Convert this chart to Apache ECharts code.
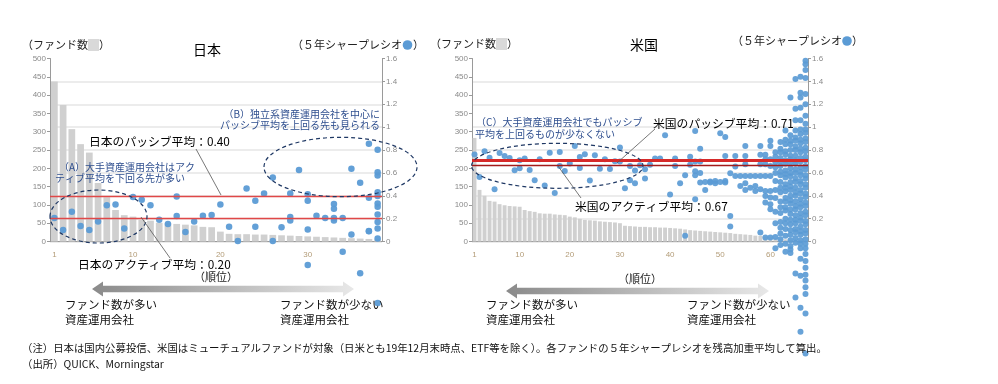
<!DOCTYPE html>
<html><head><meta charset="utf-8">
<script src="https://cdn.jsdelivr.net/npm/echarts@6/dist/echarts.min.js"></script>
<style>html,body{margin:0;padding:0;background:#fff}#c{width:998px;height:384px}</style>
</head><body><div id="c"></div>
<script>
// ---- data ----
const japanCounts = [437,373,307,266,243,160,121,86,72,68,59,57,51,50,48,46,44,40,39,27,21,20,20,19,19,18,17,16,15,14,13,12,11,10,9,8,7,6];
const japanSharpeByRank = [
 [0.205],[0.10],[0.26],[0.136],[0.10],[0.174],[0.316],[0.324],[0.113],[0.39],
 [0.365],[0.316],[0.19],[0.153],[0.394,0.223],[0.083],[0.174],[0.226],[0.231],[0.324],
 [0.13],[0.005],[0.463],[0.356,0.13],[0.42],[0.56,0.005],[0.124],[0.42,0.214,0.183],[0.626],[0.414,0.356,0.104,-0.206],
 [0.226],[0.205],[0.327,0.287,0.205,0.183],[0.205,-0.09],[0.635,0.061],[0.513,-0.278],[0.855,0.383,0.092,0.09],
 [0.803,0.605,0.577,0.43,0.397,0.333,0.304,0.235,0.17,0.113,0.026,-0.537]
];
const japanPassiveAvg = 0.40;
const japanActiveAvg = 0.20;
const japanTickRanks = [1,10,20,30];

const usCounts = [283,141,125,111,109,102,99,97,96,95,86,83,81,77,76,76,74,73,72,68,66,62,59,58,57,55,54,53,52,50,43,42,41,40,40,39,39,38,38,37,36,35,33,31,30,29,28,27,26,25,24,23,21,20,19,18,16,15,13,11,9,8,6,5,4,3,2];
const usSharpeByRank = [
 [0.76],[0.564],[0.79],[0.733],[0.457],[0.774],[0.748],[0.73],[0.623],[0.71,0.64],
 [0.725],[0.625],[0.535],[0.719],[0.49],[0.777],[0.425],[0.783,0.66],[0.617],[0.681],
 [0.835],[0.739,0.643],[0.762],[0.533],[0.754],[0.637],[0.719],[0.634],[0.701],[0.821,0.70],
 [0.465],[0.66,0.535],[0.62,0.51],[0.666],[0.631,0.55],[0.67],[0.725],[0.725],[0.93],[0.41],
 [0.725,0.66],[0.51],[0.58,0.05],[0.74,0.67],[0.966,0.70,0.615,0.58,0.37],[0.81,0.70,0.60,0.515],[0.52,0.45],[0.524,0.515],[0.509,0.53],[0.946,0.52],
 [0.914,0.748,0.53,0.515],[0.597,0.224,0.131],[0.748,0.655,0.573],[0.573,0.486],[0.835,0.748,0.675,0.573,0.509,0.451],[0.573,0.471],[0.573,0.486,0.442],[0.835,0.759,0.675,0.573,0.457,0.079],[0.759,0.719,0.675,0.573,0.442,0.398,0.34,0.035],[0.88,0.835,0.719,0.66,0.573,0.442,0.384,0.326,0.282,0.035],
 [0.78,0.74,0.69,0.65,0.6,0.53,0.45,0.38,0.26,0.16,0.04,-0.06],
 [0.87,0.81,0.78,0.73,0.7,0.66,0.61,0.58,0.52,0.47,0.43,0.35,0.3,0.25,0.17,0.12,0.07,0.02,-0.03],
 [0.97,0.89,0.85,0.79,0.76,0.71,0.68,0.62,0.59,0.56,0.5,0.47,0.44,0.38,0.35,0.3,0.27,0.2,0.16,0.11,0.05,-0.02,-0.09],
 [1.26,0.93,0.88,0.85,0.8,0.75,0.72,0.69,0.64,0.6,0.57,0.52,0.48,0.45,0.4,0.36,0.33,0.28,0.24,0.19,0.15,0.1,0.06,0.01,-0.04,-0.07,-0.1],
 [1.42,1.16,1.06,0.97,0.91,0.88,0.83,0.8,0.75,0.71,0.68,0.63,0.6,0.55,0.52,0.47,0.43,0.4,0.35,0.31,0.28,0.23,0.19,0.16,0.11,0.08,0.03,-0.01,-0.28,-0.49],
 [1.44,1.3,1.26,1.17,1.06,0.98,0.94,0.89,0.86,0.81,0.78,0.73,0.7,0.65,0.61,0.58,0.53,0.5,0.45,0.42,0.37,0.33,0.3,0.25,0.21,0.18,0.13,0.09,0.06,0.01,-0.02,-0.06,-0.15,-0.3,-0.58,-0.79],
 [1.58,1.55,1.5,1.43,1.29,1.2,1.1,1.03,0.98,0.95,0.9,0.87,0.82,0.79,0.74,0.71,0.66,0.63,0.58,0.55,0.5,0.47,0.42,0.39,0.34,0.31,0.26,0.23,0.18,0.15,0.1,0.07,0.02,-0.02,-0.06,-0.11,-0.17,-0.23,-0.29,-0.34,-0.4,-0.46,-0.63,-0.98]
];
const usPassiveAvg = 0.71;
const usActiveAvg = 0.67;
const usTickRanks = [1,10,20,30,40,50,60];

// ---- build ----
const JP = '"Noto Sans CJK JP", sans-serif';
const toDots = arr => arr.flatMap((vals, i) => vals.map(v => [i, v]));
const cats = arr => arr.map((_, i) => String(i + 1));

function xAxisFor(grid, counts, ticks) {
  return {
    type: 'category', gridIndex: grid, data: cats(counts),
    axisLine: { lineStyle: { color: '#9a9a9a', width: 1 } },
    axisTick: { show: false },
    axisLabel: { interval: (i) => ticks.includes(i + 1), color: '#b39c78', fontSize: 8, margin: 9, fontFamily: 'Liberation Sans' }
  };
}
function countAxis(grid) {
  return {
    type: 'value', gridIndex: grid, position: 'left', min: 0, max: 500, interval: 50,
    axisLine: { show: true, lineStyle: { color: '#9a9a9a' } },
    axisTick: { show: true, length: 3, lineStyle: { color: '#9a9a9a' } },
    axisLabel: { fontSize: 8, color: '#8a8a8a', margin: 4, fontFamily: 'Liberation Sans' },
    splitLine: { show: false }
  };
}
function sharpeAxis(grid) {
  return {
    type: 'value', gridIndex: grid, position: 'right', min: 0, max: 1.6, interval: 0.2,
    axisLine: { show: true, lineStyle: { color: '#9a9a9a' } },
    axisTick: { show: true, length: 3, lineStyle: { color: '#9a9a9a' } },
    axisLabel: { fontSize: 8, color: '#8a8a8a', margin: 4, fontFamily: 'Liberation Sans' },
    splitLine: { show: true, showMaxLine: false, lineStyle: { color: '#e6e6e6', width: 1.5 } }
  };
}

const txt = (text, x, y, size, color, align) => ({
  type: 'text', x: x, y: y, silent: true, z: 100,
  style: { text: text, font: size + 'px ' + JP, fill: color || '#000', textAlign: align || 'left', textVerticalAlign: 'middle' }
});
const ellipse = (cx, cy, rx, ry) => ({
  type: 'ellipse', silent: true, z: 100, shape: { cx, cy, rx, ry },
  style: { fill: null, stroke: '#1f3864', lineWidth: 1.2, lineDash: [4, 3] }
});
const leader = (x1, y1, x2, y2) => ({
  type: 'line', silent: true, z: 100, shape: { x1, y1, x2, y2 },
  style: { stroke: '#555', lineWidth: 0.8 }
});
const arrow = (xl, xr, y) => {
  const hl = 11, hh = 7.5, bh = 3.3;
  return {
    type: 'polygon', silent: true, z: 100,
    shape: { points: [[xl, y], [xl + hl, y - hh], [xl + hl, y - bh], [xr - hl, y - bh], [xr - hl, y - hh], [xr, y], [xr - hl, y + hh], [xr - hl, y + bh], [xl + hl, y + bh], [xl + hl, y + hh]] },
    style: { fill: { type: 'linear', x: 0, y: 0, x2: 1, y2: 0, colorStops: [{ offset: 0, color: '#8a8a8a' }, { offset: 1, color: '#e8e8e8' }] } }
  };
};
const box = (x, y) => ({ type: 'rect', silent: true, z: 100, shape: { x: x, y: y, width: 11, height: 12 }, style: { fill: '#d9d9d9' } });
const dot = (cx, cy) => ({ type: 'circle', silent: true, z: 100, shape: { cx, cy, r: 4.8 }, style: { fill: '#5b9bd5' } });

const blue = '#2f4f8f';
const graphics = [
  // Japan header
  txt('（ファンド数', 22, 45, 11, '#222'), box(88, 39), txt('）', 99, 45, 11, '#222'),
  txt('日本', 207, 50, 14, '#000', 'center'),
  txt('（５年シャープレシオ', 292, 45, 11, '#222'), dot(407.5, 45), txt('）', 413, 45, 11, '#222'),
  // US header
  txt('（ファンド数', 430, 44, 11, '#222'), box(496, 38), txt('）', 507, 44, 11, '#222'),
  txt('米国', 644, 45, 14, '#000', 'center'),
  txt('（５年シャープレシオ', 732, 41, 11, '#222'), dot(847, 41), txt('）', 852, 41, 11, '#222'),
  // Japan annotations
  txt('（A）大手資産運用会社はアク', 59, 167.5, 10, blue),
  txt('ティブ平均を下回る先が多い', 55, 178.5, 10, blue),
  ellipse(98.5, 216.5, 48.5, 26.5),
  txt('（B）独立系資産運用会社を中心に', 380, 114, 10, blue, 'right'),
  txt('パッシブ平均を上回る先も見られる', 380, 125.5, 10, blue, 'right'),
  ellipse(340.5, 167, 76.5, 29.7),
  txt('日本のパッシブ平均：0.40', 89, 142, 11.8, '#000'),
  leader(196, 149, 221, 195),
  txt('日本のアクティブ平均：0.20', 78, 265, 11.8, '#000'),
  leader(141, 217, 170, 258),
  // US annotations
  txt('（C）大手資産運用会社でもパッシブ', 476, 122.5, 10, blue),
  txt('平均を上回るものが少なくない', 475, 134, 10, blue),
  ellipse(557.3, 165.8, 85.7, 22.5),
  txt('米国のパッシブ平均：0.71', 653, 124, 11.8, '#000'),
  leader(655, 129, 617, 163),
  txt('米国のアクティブ平均：0.67', 575, 207, 11.8, '#000'),
  leader(558, 166, 581, 198),
  // bottom arrows
  txt('（順位）', 216, 277, 11, '#222', 'center'),
  arrow(92, 354, 289),
  txt('ファンド数が多い', 65, 305, 11.5, '#111'), txt('資産運用会社', 65, 320, 11.5, '#111'),
  txt('ファンド数が少ない', 280, 305, 11.5, '#111'), txt('資産運用会社', 280, 320, 11.5, '#111'),
  txt('（順位）', 640, 279, 11, '#222', 'center'),
  arrow(506, 769, 291),
  txt('ファンド数が多い', 486, 305, 11.5, '#111'), txt('資産運用会社', 486, 320, 11.5, '#111'),
  txt('ファンド数が少ない', 687, 305, 11.5, '#111'), txt('資産運用会社', 687, 320, 11.5, '#111'),
  // footnotes
  txt('（注）日本は国内公募投信、米国はミューチュアルファンドが対象（日米とも19年12月末時点、ETF等を除く）。各ファンドの５年シャープレシオを残高加重平均して算出。', 22, 348, 10.4, '#111'),
  txt('（出所）QUICK、Morningstar', 22, 364, 10.4, '#111')
];

const markLines = (passive, active, thick) => ({
  silent: true, symbol: ['none', 'none'], label: { show: false }, animation: false,
  data: [
    { yAxis: passive, lineStyle: { type: 'solid', color: thick ? '#d62a2a' : '#e04848', width: thick ? 3.2 : 1.4 } },
    { yAxis: active, lineStyle: { type: 'solid', color: thick ? '#a31b1b' : '#e04848', width: 1.4 } }
  ]
});

const option = {
  animation: false,
  textStyle: { fontFamily: JP },
  grid: [
    { left: 50, right: 616, top: 58.5, bottom: 142.5 },
    { left: 472, right: 190, top: 58.5, bottom: 142.5 }
  ],
  xAxis: [xAxisFor(0, japanCounts, japanTickRanks), xAxisFor(1, usCounts, usTickRanks)],
  yAxis: [countAxis(0), sharpeAxis(0), countAxis(1), sharpeAxis(1)],
  series: [
    { type: 'bar', xAxisIndex: 0, yAxisIndex: 0, data: japanCounts, barCategoryGap: '23%', itemStyle: { color: '#d0d0d0' }, silent: true },
    { type: 'scatter', xAxisIndex: 0, yAxisIndex: 1, data: toDots(japanSharpeByRank), symbolSize: 6.5, clip: false,
      itemStyle: { color: '#5b9bd5', opacity: 0.95 }, silent: true, markLine: markLines(japanPassiveAvg, japanActiveAvg, false) },
    { type: 'bar', xAxisIndex: 1, yAxisIndex: 2, data: usCounts, barCategoryGap: '22%', itemStyle: { color: '#d0d0d0' }, silent: true },
    { type: 'scatter', xAxisIndex: 1, yAxisIndex: 3, data: toDots(usSharpeByRank), symbolSize: 6, clip: false,
      itemStyle: { color: '#5b9bd5', opacity: 0.92 }, silent: true, markLine: markLines(usPassiveAvg, usActiveAvg, true) }
  ],
  graphic: { elements: graphics }
};
const chart = echarts.init(document.getElementById('c'), null, { renderer: 'canvas' });
chart.setOption(option);
</script></body></html>
